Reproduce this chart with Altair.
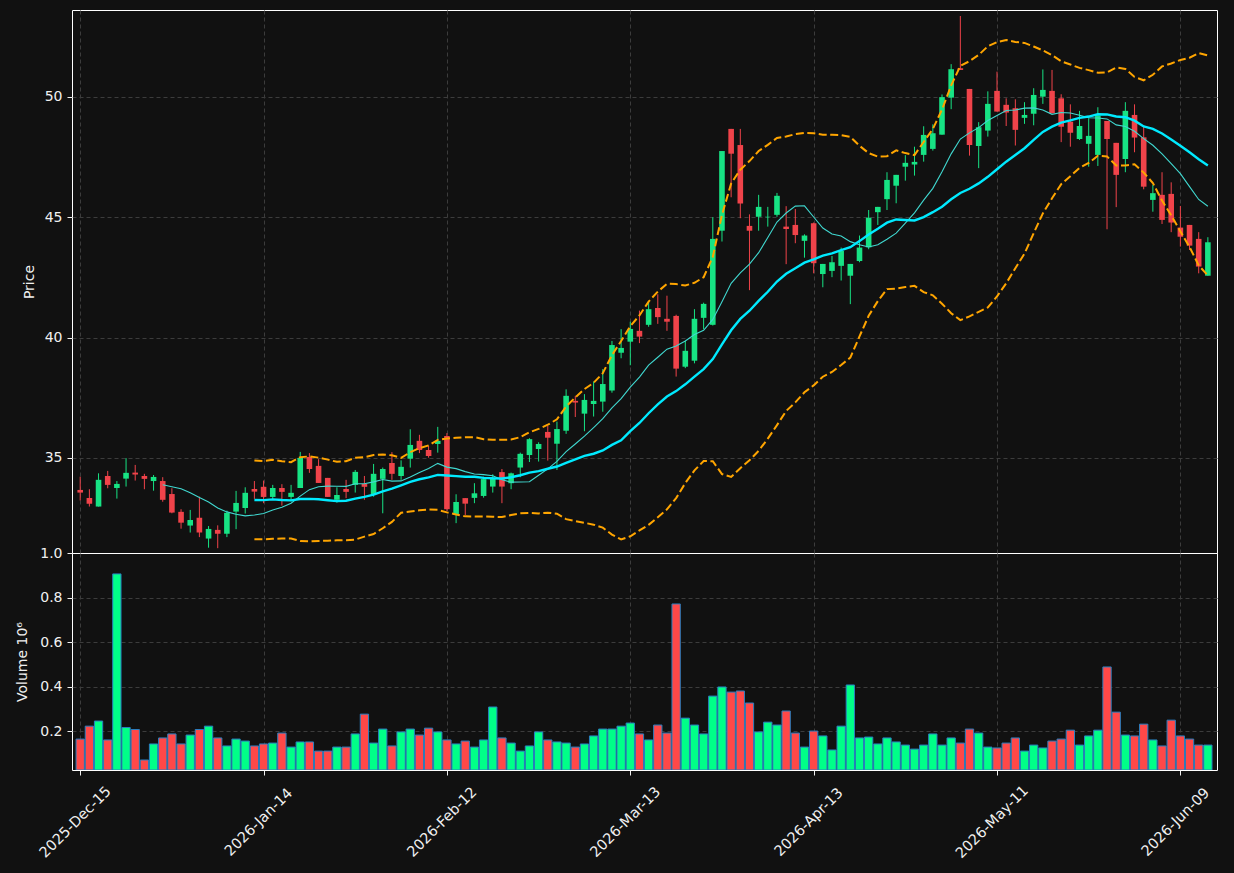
import altair as alt
import pandas as pd

# ---- data (124 trading sessions) ----
open_ = [33.67, 33.34, 32.98, 34.25, 33.75, 34.14, 34.39, 34.25, 34.04, 34.04,
         33.50, 32.76, 32.19, 32.51, 31.65, 32.01, 31.85, 32.77, 32.92, 33.71,
         33.80, 33.38, 33.75, 33.38, 33.75, 35.04, 34.67, 34.17, 33.26, 33.71,
         33.88, 33.92, 33.50, 34.13, 34.79, 34.25, 34.97, 35.71, 35.33, 35.58,
         35.91, 32.63, 33.33, 33.34, 33.42, 33.81, 34.41, 33.95, 34.60, 35.12,
         35.37, 36.08, 35.59, 36.13, 37.37, 36.84, 37.24, 37.34, 37.80, 39.37,
         39.83, 40.28, 40.53, 41.23, 40.78, 40.90, 38.79, 39.04, 40.82, 40.53,
         44.44, 48.67, 48.00, 44.64, 45.02, 45.00, 45.10, 44.61, 44.68, 44.02,
         44.75, 42.64, 42.77, 42.98, 42.57, 43.18, 43.75, 45.21, 45.75, 46.31,
         47.10, 47.19, 47.59, 47.84, 48.43, 49.97, 51.19, 50.33, 47.96, 48.60,
         50.25, 49.67, 49.53, 49.13, 49.30, 50.01, 50.25, 49.94, 48.97, 48.25,
         48.05, 47.59, 49.00, 48.09, 47.42, 49.25, 48.32, 45.72, 45.93, 45.97,
         44.57, 44.68, 44.10, 42.57]
high = [34.22, 33.70, 34.36, 34.46, 34.04, 34.99, 34.71, 34.34, 34.29, 34.20,
        33.74, 32.87, 32.84, 33.39, 32.17, 32.20, 32.81, 33.63, 33.78, 34.04,
        34.06, 33.88, 33.91, 33.88, 35.25, 35.20, 34.95, 34.17, 33.78, 34.09,
        34.50, 34.25, 34.75, 34.60, 35.24, 34.90, 36.19, 35.96, 35.50, 36.29,
        36.03, 33.49, 33.33, 33.95, 34.22, 34.32, 34.54, 34.39, 35.22, 35.82,
        35.65, 36.34, 36.51, 37.85, 37.58, 37.65, 38.17, 38.69, 39.86, 40.35,
        40.66, 41.12, 41.47, 41.80, 41.74, 40.95, 39.86, 41.18, 41.45, 45.00,
        47.75, 48.67, 48.67, 45.12, 45.93, 45.43, 46.01, 45.46, 45.34, 44.29,
        44.78, 43.06, 43.39, 43.74, 43.06, 44.24, 45.30, 45.43, 46.87, 46.76,
        47.58, 47.93, 48.78, 48.86, 50.10, 51.36, 53.36, 50.33, 48.95, 50.23,
        51.05, 49.94, 49.90, 49.78, 50.36, 51.14, 51.12, 50.11, 49.69, 49.42,
        49.11, 49.57, 49.00, 48.09, 49.78, 49.69, 48.76, 46.34, 46.87, 46.45,
        45.47, 44.68, 44.38, 44.17]
low = [33.23, 32.98, 32.98, 33.74, 33.31, 33.81, 34.06, 33.70, 33.64, 33.18,
       32.70, 32.06, 31.90, 31.71, 31.27, 31.25, 31.71, 32.04, 32.69, 33.30,
       33.12, 33.26, 33.02, 33.20, 33.75, 34.38, 33.96, 33.38, 33.14, 33.33,
       33.56, 33.26, 33.39, 32.70, 34.09, 34.09, 34.60, 35.20, 35.01, 35.22,
       32.80, 32.29, 32.63, 33.12, 33.35, 33.56, 33.12, 33.70, 34.20, 34.83,
       34.85, 34.89, 34.50, 36.00, 36.70, 36.11, 36.72, 36.92, 37.71, 39.14,
       38.85, 39.77, 40.45, 40.57, 40.28, 38.38, 38.73, 38.93, 40.35, 40.50,
       43.99, 45.83, 44.96, 41.97, 44.44, 44.61, 45.02, 43.05, 43.92, 43.32,
       42.67, 42.09, 42.51, 42.37, 41.39, 43.13, 43.67, 44.68, 45.30, 45.58,
       46.52, 46.73, 47.31, 47.77, 48.43, 49.49, 51.12, 47.56, 47.04, 48.35,
       49.39, 48.79, 47.98, 48.88, 48.82, 49.71, 49.32, 48.12, 47.93, 48.21,
       47.10, 47.13, 44.50, 45.42, 46.87, 47.70, 46.16, 45.23, 44.72, 44.38,
       43.78, 43.64, 42.67, 42.57]
close = [33.56, 33.10, 34.09, 33.88, 33.92, 34.38, 34.31, 34.13, 34.21, 33.26,
         32.73, 32.31, 32.42, 31.90, 32.05, 31.85, 32.72, 33.13, 33.55, 33.60,
         33.38, 33.75, 33.59, 33.55, 35.00, 34.54, 33.96, 33.38, 33.46, 33.59,
         34.42, 33.80, 34.34, 34.54, 34.34, 34.63, 35.54, 35.33, 35.08, 35.71,
         32.87, 33.17, 33.10, 33.53, 34.12, 34.18, 33.81, 34.36, 35.17, 35.78,
         35.58, 35.84, 36.20, 37.58, 37.30, 37.41, 37.37, 38.07, 39.69, 39.57,
         40.36, 40.04, 41.18, 40.85, 40.66, 38.71, 39.45, 40.78, 41.40, 44.10,
         47.75, 47.64, 45.57, 44.44, 45.43, 45.02, 45.89, 44.51, 44.26, 44.24,
         43.09, 43.06, 43.13, 43.60, 43.06, 43.74, 44.98, 45.43, 46.55, 46.76,
         47.26, 47.30, 48.42, 48.49, 49.99, 51.15, 51.12, 48.00, 48.74, 49.71,
         49.39, 49.35, 48.63, 49.25, 50.08, 50.29, 49.32, 48.76, 48.51, 48.79,
         48.38, 49.22, 48.25, 46.76, 49.42, 48.31, 46.27, 46.00, 44.89, 44.78,
         44.19, 43.82, 42.95, 43.96]
volume_m = [0.164, 0.222, 0.245, 0.160, 0.906, 0.216, 0.207, 0.070, 0.142, 0.169,
            0.187, 0.142, 0.182, 0.207, 0.222, 0.169, 0.133, 0.164, 0.155, 0.133,
            0.142, 0.146, 0.191, 0.128, 0.151, 0.151, 0.110, 0.110, 0.128, 0.128,
            0.187, 0.276, 0.146, 0.209, 0.133, 0.196, 0.209, 0.182, 0.213, 0.196,
            0.160, 0.142, 0.155, 0.128, 0.160, 0.308, 0.169, 0.146, 0.110, 0.133,
            0.196, 0.160, 0.151, 0.146, 0.128, 0.142, 0.178, 0.209, 0.209, 0.222,
            0.236, 0.187, 0.160, 0.227, 0.191, 0.771, 0.258, 0.227, 0.187, 0.357,
            0.398, 0.375, 0.380, 0.326, 0.196, 0.240, 0.227, 0.290, 0.191, 0.128,
            0.200, 0.178, 0.115, 0.222, 0.407, 0.169, 0.173, 0.142, 0.169, 0.151,
            0.137, 0.119, 0.137, 0.187, 0.137, 0.169, 0.146, 0.209, 0.191, 0.128,
            0.124, 0.146, 0.169, 0.110, 0.137, 0.124, 0.155, 0.164, 0.204, 0.137,
            0.178, 0.204, 0.488, 0.285, 0.182, 0.178, 0.231, 0.160, 0.133, 0.249,
            0.178, 0.164, 0.137, 0.137]
tick_pos = [0, 20, 40, 60, 80, 100, 120]
tick_labels = ["2025-Dec-15", "2026-Jan-14", "2026-Feb-12", "2026-Mar-13",
               "2026-Apr-13", "2026-May-11", "2026-Jun-09"]
price_ticks = [35, 40, 45, 50]
volume_ticks = [0.2, 0.4, 0.6, 0.8, 1.0]

# ---- table ----
n = len(close)
df = pd.DataFrame({"i": list(range(n)), "open": open_, "high": high,
                   "low": low, "close": close, "volume": volume_m})
df["dir"] = ["up" if c >= o else "down" for o, c in zip(open_, close)]
df["ma10"] = df["close"].rolling(10).mean()
df["ma20"] = df["close"].rolling(20).mean()
sd = df["close"].rolling(20).std(ddof=0)
df["bb_up"] = df["ma20"] + 2 * sd
df["bb_lo"] = df["ma20"] - 2 * sd

BG = "#111111"
FG = "#f0f0f0"
GRID = "#3c3c3c"
FONT = "DejaVu Sans"
W = 1145

xscale = alt.Scale(domain=[-0.35, 123.45], nice=False, zero=False)
pos_js = "[" + ",".join(str(p) for p in tick_pos) + "]"
lab_js = "[" + ",".join("'" + s + "'" for s in tick_labels) + "]"
label_expr = f"{lab_js}[indexof({pos_js}, datum.value)]"

x_price = alt.X("i:Q", scale=xscale, axis=alt.Axis(
    values=tick_pos, labels=False, ticks=False, domain=False, title=None,
    grid=True, gridColor=GRID, gridDash=[4, 3], gridWidth=1))

yscale_p = alt.Scale(domain=[31.05, 53.61], nice=False, zero=False)
yaxis_p = alt.Axis(values=price_ticks, title="Price", grid=True, gridColor=GRID,
                   gridDash=[4, 3], gridWidth=1, domain=False, tickColor=FG,
                   tickSize=5, labelPadding=5, labelColor=FG, labelFontSize=14,
                   labelFont=FONT, titleColor=FG, titleFont=FONT, titleFontSize=14,
                   titleFontWeight="normal", titlePadding=8)

dir_color = alt.Color("dir:N", legend=None,
                      scale=alt.Scale(domain=["up", "down"], range=["#17e384", "#f0434a"]))

base = alt.Chart(df)
wicks = base.mark_rule(strokeWidth=1).encode(
    x=x_price, y=alt.Y("low:Q", scale=yscale_p, axis=yaxis_p), y2="high:Q", color=dir_color)
bodies = base.mark_bar(size=5.6).encode(
    x=x_price, y=alt.Y("open:Q"), y2="close:Q", color=dir_color)
ma10 = base.mark_line(color="#40d8d0", strokeWidth=1.1).encode(x=x_price, y="ma10:Q")
ma20 = base.mark_line(color="#00eaff", strokeWidth=2.4).encode(x=x_price, y="ma20:Q")
bbu = base.mark_line(color="#ffa500", strokeWidth=2, strokeDash=[8, 3.5]).encode(x=x_price, y="bb_up:Q")
bbl = base.mark_line(color="#ffa500", strokeWidth=2, strokeDash=[8, 3.5]).encode(x=x_price, y="bb_lo:Q")

price = alt.layer(wicks, bodies, ma10, ma20, bbu, bbl).properties(width=W, height=543)

x_vol = alt.X("i:Q", scale=xscale, axis=alt.Axis(
    values=tick_pos, labelExpr=label_expr, title=None, domain=False,
    grid=True, gridColor=GRID, gridDash=[4, 3], gridWidth=1,
    tickColor=FG, tickSize=5, labelColor=FG, labelFontSize=14.5, labelFont=FONT,
    labelAngle=315, labelAlign="center", labelBaseline="middle", labelPadding=47,
    labelOffset=-5, labelOverlap=False))
yscale_v = alt.Scale(domain=[0.025, 1.0], nice=False, zero=False)
yaxis_v = alt.Axis(values=volume_ticks, format=".1f", title="Volume  10⁶",
                   grid=True, gridColor=GRID, gridDash=[4, 3], gridWidth=1,
                   gridOpacity={"condition": {"test": "datum.value >= 0.99", "value": 0}, "value": 1},
                   domain=False, tickColor=FG, tickSize=5, labelPadding=5,
                   labelColor=FG, labelFontSize=14, labelFont=FONT, titleColor=FG,
                   titleFont=FONT, titleFontSize=14, titleFontWeight="normal",
                   titlePadding=10)
vol_color = alt.Color("dir:N", legend=None,
                      scale=alt.Scale(domain=["up", "down"], range=["#00ff88", "#ff4848"]))
volume = base.mark_bar(size=8.3, stroke="#2a7fc0", strokeWidth=1, clip=True).encode(
    x=x_vol, y=alt.Y("volume:Q", scale=yscale_v, axis=yaxis_v),
    y2=alt.datum(0.025), color=vol_color).properties(width=W, height=217)

chart = alt.vconcat(price, volume, spacing=0, bounds="flush").resolve_scale(color="independent").properties(
    background=BG, padding={"left": 15, "top": 9, "right": 16, "bottom": 18}
).configure_view(stroke="#ffffff", strokeWidth=1).configure_concat(spacing=0)

chart.save("out.html", embed_options={"renderer": "svg", "actions": False})
